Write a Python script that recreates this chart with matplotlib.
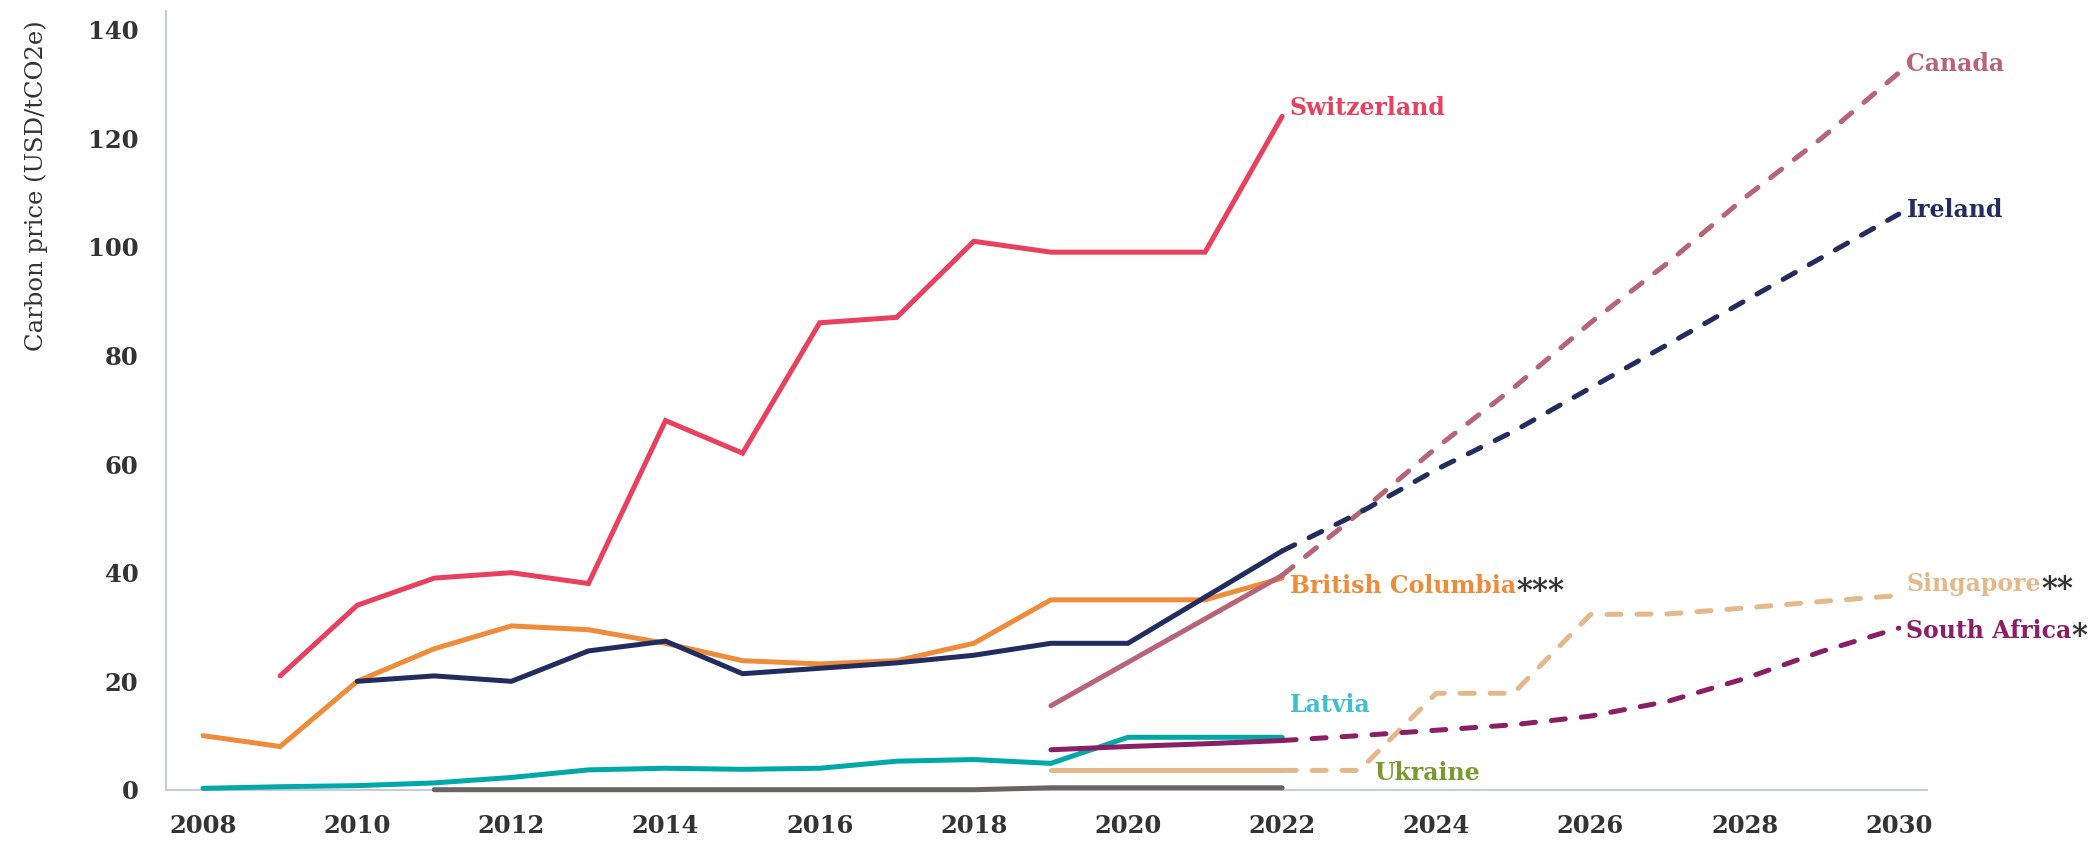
import matplotlib
matplotlib.use('Agg')
import matplotlib.pyplot as plt

# ── Data ──────────────────────────────────────────────────────────────────────
years_ch = [2009, 2010, 2011, 2012, 2013, 2014, 2015, 2016, 2017, 2018, 2019, 2020, 2021, 2022]
switzerland = [21, 34, 39, 40, 38, 68, 62, 86, 87, 101, 99, 99, 99, 124]

years_bc = list(range(2008, 2023))
british_columbia = [10, 8, 20, 26, 30.2, 29.5, 27, 23.8, 23.2, 23.8, 27, 35, 35, 35, 39]

years_ie = list(range(2010, 2023))
ireland = [20, 21, 20, 25.6, 27.4, 21.4, 22.4, 23.4, 24.8, 27, 27, 35.5, 44]
years_ie_proj = list(range(2022, 2031))
ireland_proj = [44, 51, 59, 66, 74, 82, 90, 98, 106]

years_ca = [2019, 2020, 2021, 2022]
canada = [15.5, 23.5, 31.5, 39.5]
years_ca_proj = list(range(2022, 2031))
canada_proj = [39.5, 51, 63, 74, 86, 97, 109, 120, 132]

years_lv = list(range(2008, 2023))
latvia = [0.3, 0.6, 0.8, 1.3, 2.3, 3.7, 4.0, 3.8, 4.0, 5.3, 5.6, 4.9, 9.7, 9.7, 9.7]

years_ua = list(range(2011, 2023))
ukraine = [0.05, 0.05, 0.05, 0.05, 0.05, 0.05, 0.05, 0.05, 0.4, 0.4, 0.4, 0.4]

years_sg = [2019, 2020, 2021, 2022]
singapore = [3.6, 3.6, 3.6, 3.6]
years_sg_proj = list(range(2022, 2031))
singapore_proj = [3.6, 3.6, 17.8, 17.8, 32.3, 32.4, 33.5, 34.7, 35.8]

years_za = [2019, 2020, 2021, 2022]
south_africa = [7.4, 8.0, 8.5, 9.1]
years_za_proj = list(range(2022, 2031))
south_africa_proj = [9.1, 10.0, 11.0, 12.0, 13.6, 16.3, 20.5, 25.5, 29.8]

x_ticks = list(range(2008, 2031, 2))
y_ticks = list(range(0, 141, 20))

# ── Colours ───────────────────────────────────────────────────────────────────
C_CH = '#e8405e'
C_BC = '#ef8c3a'
C_IE = '#232c5e'
C_CA = '#b86478'
C_LV = '#00a8a8'
C_LV_LBL = '#3dbfcf'
C_SG = '#e3b98a'
C_ZA = '#8a1f66'
C_UA = '#6b6464'
C_UA_LBL = '#7a9a2e'
C_TXT = '#333333'
C_AX = '#c8cade'

FONT = 'DejaVu Serif'
plt.rcParams['font.family'] = FONT

fig = plt.figure(figsize=(20.97, 8.43), dpi=100)
ax = fig.add_axes([0.0792, 0.0629, 0.9187 - 0.0792, 0.987 - 0.0629])

LW = 3.6
DASH = (2.8, 3.2)

def solid(x, y, c):
    ax.plot(x, y, color=c, lw=LW, solid_capstyle='round', solid_joinstyle='miter',
            clip_on=False, zorder=3)

def dashed(x, y, c):
    ax.plot(x, y, color=c, lw=LW, linestyle=(0, DASH), dash_capstyle='round',
            clip_on=False, zorder=3)

solid(years_ua, ukraine, C_UA)
solid(years_lv, latvia, C_LV)
solid(years_sg, singapore, C_SG)
dashed(years_sg_proj, singapore_proj, C_SG)
solid(years_za, south_africa, C_ZA)
dashed(years_za_proj, south_africa_proj, C_ZA)
solid(years_bc, british_columbia, C_BC)
solid(years_ca, canada, C_CA)
dashed(years_ca_proj, canada_proj, C_CA)
solid(years_ie, ireland, C_IE)
dashed(years_ie_proj, ireland_proj, C_IE)
solid(years_ch, switzerland, C_CH)

# ── Axes styling ──────────────────────────────────────────────────────────────
ax.set_xlim(2007.52, 2030.36)
ax.set_ylim(0, 143.4)
for s in ['top', 'right']:
    ax.spines[s].set_visible(False)
for s in ['left', 'bottom']:
    ax.spines[s].set_color(C_AX)
    ax.spines[s].set_linewidth(1.5)
ax.set_xticks(x_ticks)
ax.set_yticks(y_ticks)
ax.tick_params(length=0, labelsize=17.5, labelcolor=C_TXT)
ax.tick_params(axis='x', pad=17)
ax.tick_params(axis='y', pad=20)
for lbl in ax.get_xticklabels() + ax.get_yticklabels():
    lbl.set_fontweight('bold')

fig.text(36 / 2097, 1 - 186 / 843, 'Carbon price (USD/tCO2e)', rotation=90,
         ha='center', va='center', fontsize=17.5, color=C_TXT)

# ── Series labels ─────────────────────────────────────────────────────────────
LBL = dict(fontsize=17, fontweight='bold', ha='left', va='center')

def label(x, y, text, color, stars=''):
    t = ax.text(x, y, text, color=color, **LBL)
    if stars:
        # asterisks sit a little low so they line up with the cap height
        ax.annotate(stars, xy=(1, 0.5), xycoords=t, xytext=(0, -4),
                    textcoords='offset points', ha='left', va='center',
                    fontsize=22, fontweight='bold', color=C_TXT)

label(2022.1, 125.6, 'Switzerland', C_CH)
label(2030.1, 133.7, 'Canada', C_CA)
label(2030.1, 106.8, 'Ireland', C_IE)
label(2022.1, 37.6, 'British Columbia', C_BC, '***')
label(2022.1, 15.7, 'Latvia', C_LV_LBL)
label(2023.2, 3.1, 'Ukraine', C_UA_LBL)
label(2030.1, 38.0, 'Singapore', C_SG, '**')
label(2030.1, 29.3, 'South Africa', C_ZA, '*')

fig.savefig('out.png', dpi=100, facecolor='white')
